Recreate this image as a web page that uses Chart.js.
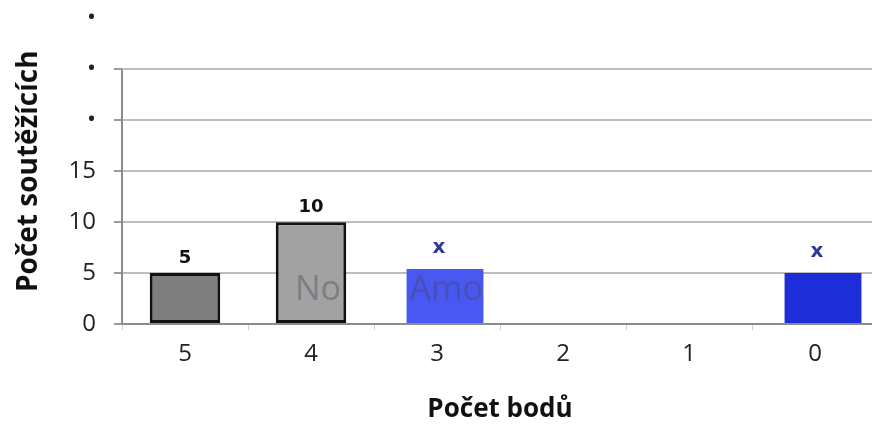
<!DOCTYPE html>
<html>
<head>
<meta charset="utf-8">
<script src="https://cdn.jsdelivr.net/npm/chart.js@4/dist/chart.umd.min.js"></script>
<style>
  html, body { margin: 0; padding: 0; background: #fff; overflow: hidden; }
  body { width: 872px; height: 425px; position: relative; }
  /* the plot runs a bit past the top and right edge of the picture */
  #wrap { position: absolute; left: 0; top: -14px; width: 878px; height: 439px; }
</style>
</head>
<body>
<div id="wrap"><canvas id="chart"></canvas></div>
<script>
// Data
const categories = ["5", "4", "3", "2", "1", "0"];
const grayValues = [5, 10, null, null, null, null];
const blueValues = [null, null, 5.4, 0, 0, 5];
const grayColors = ["#7f7f7f", "#a2a2a2", null, null, null, null];
const blueColors = [null, null, "#4858f0", "#4858f0", "#4858f0", "#1d2dd8"];
const valueLabels = ["5", "10", "x", "", "", "x"];
const yTickValues = [0, 5, 10, 15, 20, 25, 30];
const yTickLabels = ["0", "5", "10", "15", "•", "•", "•"];

const fontFamily = "'Open Sans', 'Noto Sans', sans-serif";
// the blue bars sit a little right of their category centre in the original
const blueShift = 8;

function barShift(i) {
  return i === 1 ? blueShift : 0;
}

// y axis line only up to the last gridline
const axisLinePlugin = {
  id: "axisLine",
  beforeDatasetsDraw(chart) {
    const { ctx, chartArea, scales } = chart;
    ctx.save();
    ctx.strokeStyle = "#8c8c8c";
    ctx.lineWidth = 2;
    ctx.beginPath();
    ctx.moveTo(chartArea.left, scales.y.getPixelForValue(0));
    ctx.lineTo(chartArea.left, scales.y.getPixelForValue(25));
    ctx.stroke();
    ctx.restore();
  }
};

// shift the blue dataset sideways
const shiftPlugin = {
  id: "shiftBlue",
  beforeDatasetDraw(chart, args) {
    chart.ctx.save();
    chart.ctx.translate(barShift(args.index), 0);
  },
  afterDatasetDraw(chart) {
    chart.ctx.restore();
  }
};

// faint watermark text that shows only inside the bars
const watermarkPlugin = {
  id: "watermark",
  afterDatasetsDraw(chart) {
    const { ctx, scales } = chart;
    ctx.save();
    ctx.beginPath();
    chart.data.datasets.forEach((ds, i) => {
      chart.getDatasetMeta(i).data.forEach((bar, j) => {
        if (ds.data[j] == null || ds.data[j] === 0) return;
        ctx.rect(bar.x + barShift(i) - bar.width / 2, bar.y, bar.width, bar.base - bar.y);
      });
    });
    ctx.clip();
    ctx.font = "34px " + fontFamily;
    ctx.fillStyle = "rgba(70, 70, 90, 0.4)";
    ctx.textBaseline = "alphabetic";
    const yBase = scales.y.getPixelForValue(2.4);
    const blueBar = chart.getDatasetMeta(1).data[2];
    ctx.fillText("No", scales.x.getPixelForValue(1) - 16, yBase);
    ctx.fillText("Amount", blueBar.x + blueShift - blueBar.width / 2 + 3, yBase);
    ctx.restore();
  }
};

// value labels above the bars
const valueLabelPlugin = {
  id: "valueLabels",
  afterDatasetsDraw(chart) {
    const { ctx } = chart;
    ctx.save();
    ctx.textAlign = "center";
    ctx.textBaseline = "bottom";
    chart.data.datasets.forEach((ds, i) => {
      chart.getDatasetMeta(i).data.forEach((bar, j) => {
        if (ds.data[j] == null || !valueLabels[j]) return;
        const x = bar.x + barShift(i);
        if (valueLabels[j] === "x") {
          ctx.font = "bold 20px 'DejaVu Sans', sans-serif";
          ctx.fillStyle = "#2c3a9c";
          ctx.fillText(valueLabels[j], x - 6, bar.y - 11);
        } else {
          ctx.font = "bold 18px 'DejaVu Sans', sans-serif";
          ctx.fillStyle = "#111";
          ctx.fillText(valueLabels[j], x, bar.y - 6);
        }
      });
    });
    ctx.restore();
  }
};

new Chart(document.getElementById("chart"), {
  type: "bar",
  data: {
    labels: categories,
    datasets: [
      {
        data: grayValues,
        backgroundColor: grayColors,
        borderColor: "#111",
        borderWidth: 3,
        borderSkipped: false,
        barPercentage: 0.56,
        categoryPercentage: 1
      },
      {
        data: blueValues,
        backgroundColor: blueColors,
        borderWidth: 0,
        barPercentage: 0.61,
        categoryPercentage: 1
      }
    ]
  },
  options: {
    responsive: true,
    maintainAspectRatio: false,
    animation: false,
    datasets: { bar: { grouped: false } },
    layout: { padding: { top: 0, right: 0, left: 12, bottom: 0 } },
    plugins: {
      legend: { display: false },
      tooltip: { enabled: false }
    },
    scales: {
      x: {
        grid: {
          display: true,
          drawOnChartArea: false,
          drawTicks: true,
          tickLength: 6,
          color: "#cfcfcf"
        },
        border: { display: true, color: "#8c8c8c", width: 2 },
        ticks: {
          color: "#222",
          padding: 10,
          font: { family: fontFamily, size: 24 }
        },
        title: {
          display: true,
          text: "Počet bodů",
          color: "#111",
          padding: { top: 4, bottom: 0 },
          font: { family: fontFamily, size: 26, weight: "bold" }
        },
        afterFit(scale) {
          scale.height = 101;
        }
      },
      y: {
        min: 0,
        max: 30,
        afterBuildTicks(scale) {
          scale.ticks = yTickValues.map((v) => ({ value: v }));
        },
        grid: {
          color: (c) => (c.tick && c.tick.value === 30 ? "rgba(0,0,0,0)" : c.tick && c.tick.value === 0 ? "#8c8c8c" : "#bdbdbd"),
          tickColor: (c) => (c.tick && c.tick.value === 30 ? "rgba(0,0,0,0)" : "#9a9a9a"),
          lineWidth: 2,
          tickLength: 8
        },
        border: { display: false },
        ticks: {
          color: "#222",
          padding: 18,
          font: { family: fontFamily, size: 24 },
          callback: (value) => {
            const k = yTickValues.indexOf(value);
            return k >= 0 ? yTickLabels[k] : "";
          }
        },
        title: {
          display: true,
          text: "Počet soutěžících",
          color: "#111",
          padding: { top: 0, bottom: 4 },
          font: { family: fontFamily, size: 28, weight: "bold" }
        },
        afterFit(scale) {
          scale.width = 110;
        }
      }
    }
  },
  plugins: [axisLinePlugin, shiftPlugin, watermarkPlugin, valueLabelPlugin]
});
</script>
</body>
</html>
